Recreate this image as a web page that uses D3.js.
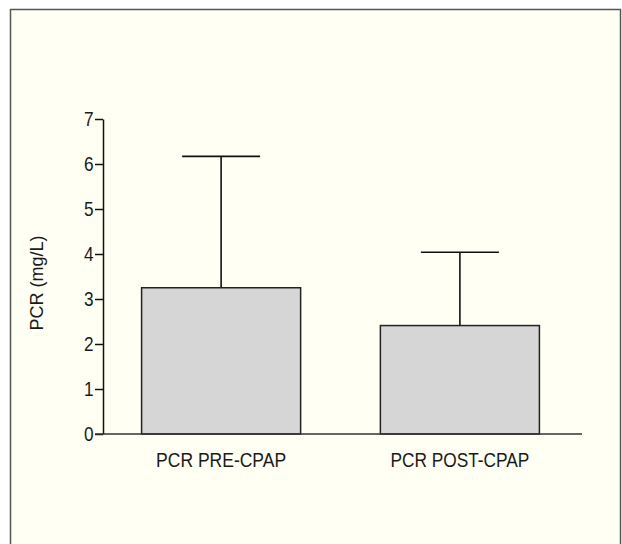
<!DOCTYPE html>
<html>
<head>
    <meta charset="utf-8">
    <title>PCR pre/post CPAP</title>
    <script type="text/javascript" src="https://cdn.jsdelivr.net/npm/d3@7/dist/d3.min.js"></script>
    <style type="text/css">
        html, body {
            margin: 0;
            padding: 0;
            background: #ffffff;
        }

        svg {
            display: block;
        }

        .tick text, .cat {
            font-family: "Liberation Sans", Arial, sans-serif;
            font-size: 21px;
            fill: #1a1a1a;
        }
    </style>
</head>

<body>

<script type="text/javascript">
    var categories = ["PCR PRE-CPAP", "PCR POST-CPAP"];
    var means = [3.25, 2.41];
    var errTops = [6.17, 4.04];
    var yTicks = [0, 1, 2, 3, 4, 5, 6, 7];

    var width = 622, height = 544;

    var svg = d3.select("body").append("svg")
            .attr("width", width)
            .attr("height", height);

    // panel frame (bottom edge runs off the picture)
    svg.append("rect")
            .attr("x", 10.5).attr("y", 9.5)
            .attr("width", 610).attr("height", 560)
            .attr("fill", "#fffff3")
            .attr("stroke", "#555")
            .attr("stroke-width", 1.5);

    var y = d3.scaleLinear().domain([0, 7]).range([434, 119]);
    var x = d3.scaleBand().domain(categories).range([101, 580])
            .paddingInner(0.334).paddingOuter(0.17);

    var data = categories.map(function (c, i) {
        return {cat: c, mean: means[i], top: errTops[i]};
    });

    // error bars (upper only)
    var err = svg.append("g").selectAll("g").data(data).enter().append("g")
            .attr("stroke", "#111").attr("stroke-width", 1.6);
    err.append("line")
            .attr("x1", function (d) { return x(d.cat) + x.bandwidth() / 2; })
            .attr("x2", function (d) { return x(d.cat) + x.bandwidth() / 2; })
            .attr("y1", function (d) { return y(d.mean); })
            .attr("y2", function (d) { return y(d.top); });
    err.append("line")
            .attr("x1", function (d) { return x(d.cat) + x.bandwidth() / 2 - 39; })
            .attr("x2", function (d) { return x(d.cat) + x.bandwidth() / 2 + 39; })
            .attr("y1", function (d) { return y(d.top); })
            .attr("y2", function (d) { return y(d.top); });

    svg.append("g").selectAll("rect").data(data).enter().append("rect")
            .attr("x", function (d) { return x(d.cat); })
            .attr("y", function (d) { return y(d.mean); })
            .attr("width", x.bandwidth())
            .attr("height", function (d) { return y(0) - y(d.mean); })
            .attr("fill", "#d6d6d6")
            .attr("stroke", "#222")
            .attr("stroke-width", 1.5);

    // y axis
    var yAxis = svg.append("g")
            .attr("transform", "translate(103,0)")
            .call(d3.axisLeft(y).tickValues(yTicks).tickFormat(d3.format("d"))
                    .tickSize(8).tickPadding(3).tickSizeOuter(0));
    yAxis.select(".domain").attr("stroke", "#111").attr("stroke-width", 1.5);
    yAxis.selectAll(".tick line").attr("stroke", "#111").attr("stroke-width", 1.5);
    // condensed look for the digits
    yAxis.selectAll(".tick text")
            .attr("x", -11.5)
            .attr("transform", "scale(0.82,1)");

    // x axis line
    svg.append("line")
            .attr("x1", 95).attr("x2", 582)
            .attr("y1", y(0)).attr("y2", y(0))
            .attr("stroke", "#333").attr("stroke-width", 1.5);

    svg.append("g").selectAll("text").data(categories).enter().append("text")
            .attr("class", "cat")
            .attr("x", function (d) { return x(d) + x.bandwidth() / 2; })
            .attr("y", 467)
            .attr("text-anchor", "middle")
            .attr("textLength", function (d, i) { return i === 0 ? 130 : 139; })
            .attr("lengthAdjust", "spacingAndGlyphs")
            .text(function (d) { return d; });

    svg.append("text")
            .attr("transform", "translate(43,283) rotate(-90)")
            .attr("text-anchor", "middle")
            .style("font-family", "'Liberation Sans', Arial, sans-serif")
            .style("font-size", "18px")
            .attr("fill", "#1a1a1a")
            .text("PCR (mg/L)");
</script>
</body>

</html>
